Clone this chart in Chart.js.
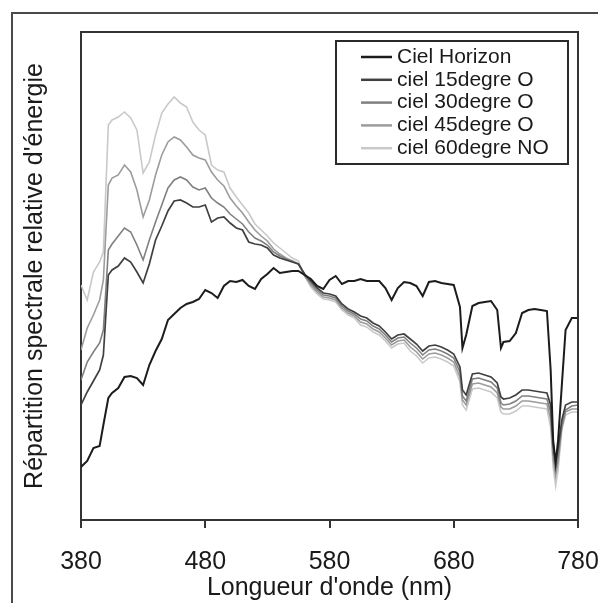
<!DOCTYPE html>
<html>
<head>
<meta charset="utf-8">
<script src="https://cdn.jsdelivr.net/npm/chart.js@4.4.1/dist/chart.umd.min.js"></script>
<style>
  html, body { margin: 0; padding: 0; background: #fff; overflow: hidden; }
  #wrap { position: relative; width: 598px; height: 603px; }
  #frame { position: absolute; left: 11px; top: 12px; width: 700px; height: 700px; border-left: 2px solid #4a4a4a; border-top: 2px solid #4a4a4a; }
  canvas { position: absolute; left: 0; top: 0; }
</style>
</head>
<body>
<div id="wrap">
  <div id="frame"></div>
  <canvas id="c" width="598" height="603"></canvas>
</div>
<script>
// Wavelengths (nm)
const wavelengths = [380,385,390,395,398,402,405,410,415,420,425,430,435,440,445,450,455,460,465,470,475,480,485,490,495,500,505,510,515,520,525,530,535,540,545,550,555,560,565,570,575,580,585,590,595,600,605,610,615,620,625,630,635,640,645,650,655,660,665,670,675,680,685,687,690,695,700,705,710,715,718,720,725,730,735,740,745,750,755,758,760,762,764,767,770,775,780];

// Relative spectral energy (arbitrary units)
const cielHorizon = [53,59,72,74,95,122,127,132,143,144,142,135,155,169,181,200,206,212,216,218,221,230,227,222,234,239,238,240,234,231,241,246,252,247,248,249,249,245,241,234,231,240,244,236,239,239,241,239,239,239,232,220,232,238,237,234,224,238,239,237,236,235,213,172,185,214,217,218,219,210,172,178,179,187,207,210,211,210,209,150,80,57,80,135,190,202,202];
const ciel15 = [115,128,139,150,165,245,250,254,262,258,248,237,256,280,294,309,319,320,317,313,313,315,298,302,303,297,292,290,278,276,275,272,265,262,260,258,256,246,239,232,227,226,224,216,211,208,204,202,197,194,188,181,185,186,181,176,169,174,175,173,170,166,153,130,125,146,147,145,143,137,123,121,122,125,130,130,129,128,127,115,75,58,72,100,115,118,118];
const ciel30 = [140,158,168,177,190,270,276,284,292,288,275,260,280,298,315,332,340,343,340,333,330,332,322,317,313,306,301,296,288,282,279,275,268,264,261,259,256,245,237,230,225,224,222,214,209,206,201,199,194,191,185,178,182,183,177,172,165,170,171,169,166,162,148,124,119,141,142,140,138,132,117,115,116,119,124,124,123,122,121,108,68,50,64,94,110,114,115];
const ciel45 = [170,192,205,220,240,335,342,345,355,348,330,303,320,345,365,378,383,380,373,365,362,360,348,340,334,322,314,307,298,290,284,279,271,266,262,259,256,244,235,228,223,222,220,212,207,204,198,196,191,188,182,175,179,180,173,168,161,166,167,165,162,158,143,120,115,136,137,135,133,127,113,111,111,114,119,119,118,117,116,101,61,44,58,93,108,111,111];
const ciel60 = [235,220,248,258,268,395,400,403,408,402,390,347,358,385,407,416,423,417,413,398,390,385,355,350,348,332,323,315,307,296,290,284,277,272,267,262,259,244,233,226,221,220,218,210,205,202,195,193,188,185,179,172,176,177,169,164,157,162,163,161,158,154,138,115,110,131,132,130,128,122,108,106,106,109,114,114,113,112,111,93,53,34,50,90,105,108,108];

const xTicks = [380,480,580,680,780];
const seriesLabels = ['Ciel Horizon','ciel 15degre O','ciel 30degre O','ciel 45degre O','ciel 60degre NO'];
const seriesValues = [cielHorizon, ciel15, ciel30, ciel45, ciel60];
const seriesColors = ['#1c1c1c','#404040','#808080','#9c9c9c','#c9c9c9'];
const seriesWidths = [2, 1.7, 1.6, 1.6, 1.6];

const FONT = "'Liberation Sans', Arial, sans-serif";

const datasets = seriesValues.map((vals, i) => ({
  label: seriesLabels[i],
  data: wavelengths.map((w, j) => ({x: w, y: vals[j]})),
  borderColor: seriesColors[i],
  backgroundColor: seriesColors[i],
  borderWidth: seriesWidths[i],
  pointRadius: 0,
  tension: 0,
  fill: false
}));

const framePlugin = {
  id: 'framePlugin',
  afterDraw(chart) {
    const {ctx, chartArea: a} = chart;
    ctx.save();
    ctx.strokeStyle = '#333';
    ctx.lineWidth = 2;
    ctx.beginPath();
    ctx.moveTo(a.left, a.top);
    ctx.lineTo(a.right, a.top);
    ctx.lineTo(a.right, a.bottom);
    ctx.stroke();

    // legend box
    const bx = a.right - 242, by = a.top + 9, bw = 232, bh = 123;
    ctx.fillStyle = '#fff';
    ctx.fillRect(bx, by, bw, bh);
    ctx.strokeStyle = '#2a2a2a';
    ctx.lineWidth = 2;
    ctx.strokeRect(bx, by, bw, bh);
    ctx.font = '21px ' + FONT;
    ctx.textBaseline = 'middle';
    ctx.textAlign = 'left';
    chart.data.datasets.forEach((ds, i) => {
      const y = by + 16 + i * 22.8;
      ctx.strokeStyle = ds.borderColor;
      ctx.lineWidth = 2.5;
      ctx.beginPath();
      ctx.moveTo(bx + 25, y);
      ctx.lineTo(bx + 56, y);
      ctx.stroke();
      ctx.fillStyle = '#1a1a1a';
      ctx.fillText(ds.label, bx + 61, y);
    });
    ctx.restore();
  }
};

new Chart(document.getElementById('c'), {
  type: 'line',
  data: { datasets },
  options: {
    responsive: false,
    animation: false,
    devicePixelRatio: 1,
    layout: { padding: { top: 32, right: 0, left: 0, bottom: 0 } },
    plugins: { legend: { display: false }, tooltip: { enabled: false } },
    scales: {
      x: {
        type: 'linear',
        min: 380,
        max: 780,
        afterBuildTicks(scale) { scale.ticks = xTicks.map(v => ({value: v})); },
        afterFit(scale) { scale.height = 83; scale.paddingRight = 20; scale.paddingLeft = 0; },
        grid: { drawOnChartArea: false, drawTicks: true, tickLength: 8, color: '#333', lineWidth: 2 },
        border: { display: true, color: '#333', width: 2 },
        ticks: { color: '#1a1a1a', font: { family: FONT, size: 25 }, padding: 19, maxRotation: 0 },
        title: { display: true, text: "Longueur d'onde (nm)", color: '#1a1a1a', font: { family: FONT, size: 25 }, padding: { top: 0, bottom: 0 } }
      },
      y: {
        min: 0,
        max: 488,
        afterFit(scale) { scale.width = 81; },
        grid: { display: false },
        border: { display: true, color: '#333', width: 2 },
        ticks: { display: false },
        title: { display: true, text: "Répartition spectrale relative d'énergie", color: '#1a1a1a', font: { family: FONT, size: 25 }, padding: { top: 20, bottom: 0 } }
      }
    }
  },
  plugins: [framePlugin]
});
</script>
</body>
</html>
